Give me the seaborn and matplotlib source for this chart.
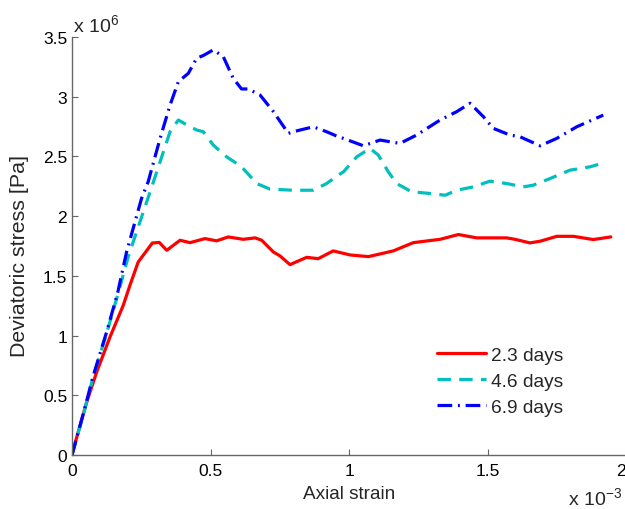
import numpy as np
import pandas as pd
import matplotlib
matplotlib.use("Agg")
import matplotlib.pyplot as plt
from matplotlib.ticker import FuncFormatter
import seaborn as sns

# Axial strain in units of 1e-3, deviatoric stress in units of 1e6 Pa
strain_23 = [0, 0.017, 0.053, 0.089, 0.137, 0.185, 0.209, 0.239, 0.275, 0.29, 0.315,
             0.342, 0.39, 0.426, 0.48, 0.522, 0.564, 0.618, 0.661, 0.685, 0.727, 0.751,
             0.787, 0.847, 0.889, 0.943, 1.004, 1.07, 1.16, 1.232, 1.329, 1.395, 1.461,
             1.569, 1.599, 1.653, 1.69, 1.75, 1.81, 1.882, 1.945]
stress_23 = [0, 0.148, 0.442, 0.694, 0.987, 1.253, 1.42, 1.616, 1.728, 1.775, 1.78,
             1.714, 1.798, 1.778, 1.812, 1.793, 1.826, 1.806, 1.818, 1.798, 1.70, 1.667,
             1.594, 1.655, 1.644, 1.709, 1.675, 1.661, 1.709, 1.778, 1.806, 1.846, 1.818,
             1.818, 1.806, 1.776, 1.79, 1.831, 1.831, 1.804, 1.826]

strain_46 = [0, 0.04, 0.077, 0.125, 0.165, 0.203, 0.245, 0.282, 0.318, 0.354, 0.384,
             0.41, 0.45, 0.474, 0.51, 0.558, 0.612, 0.667, 0.715, 0.799, 0.871, 0.919,
             0.961, 0.98, 1.028, 1.076, 1.106, 1.142, 1.172, 1.226, 1.292, 1.347, 1.389,
             1.449, 1.509, 1.569, 1.629, 1.665, 1.726, 1.798, 1.87, 1.924]
stress_46 = [0, 0.33, 0.66, 1.02, 1.34, 1.66, 1.95, 2.204, 2.455, 2.707, 2.805,
             2.77, 2.721, 2.707, 2.595, 2.497, 2.414, 2.273, 2.226, 2.217, 2.217, 2.273,
             2.343, 2.371, 2.497, 2.567, 2.511, 2.371, 2.273, 2.204, 2.19, 2.175, 2.217,
             2.245, 2.293, 2.273, 2.245, 2.259, 2.315, 2.385, 2.413, 2.449]

strain_69 = [0, 0.04, 0.077, 0.125, 0.165, 0.197, 0.251, 0.275, 0.318, 0.354, 0.384,
             0.42, 0.45, 0.474, 0.51, 0.546, 0.582, 0.612, 0.636, 0.679, 0.727, 0.781,
             0.799, 0.871, 0.919, 0.961, 0.98, 1.052, 1.112, 1.184, 1.244, 1.329, 1.389,
             1.437, 1.485, 1.521, 1.581, 1.617, 1.69, 1.75, 1.822, 1.918]
stress_69 = [0, 0.34, 0.665, 1.03, 1.36, 1.70, 2.148, 2.288, 2.651, 2.93, 3.126,
             3.196, 3.322, 3.345, 3.392, 3.336, 3.154, 3.065, 3.065, 3.014, 2.875, 2.693,
             2.707, 2.748, 2.707, 2.665, 2.651, 2.589, 2.637, 2.609, 2.679, 2.805, 2.875,
             2.945, 2.833, 2.735, 2.679, 2.665, 2.589, 2.651, 2.748, 2.846]

labels = ["2.3 days", "4.6 days", "6.9 days"]
x_ticks = [0, 0.5, 1, 1.5, 2]
y_ticks = [0, 0.5, 1, 1.5, 2, 2.5, 3, 3.5]

frames = []
for lab, xs, ys in zip(labels, [strain_23, strain_46, strain_69],
                       [stress_23, stress_46, stress_69]):
    frames.append(pd.DataFrame({"strain": np.asarray(xs) * 1e-3,
                                "stress": np.asarray(ys) * 1e6,
                                "curing": lab}))
df = pd.concat(frames, ignore_index=True)

sns.set_style("white")
plt.rcParams["font.family"] = ["Liberation Sans", "DejaVu Sans"]
plt.rcParams["mathtext.fontset"] = "custom"
plt.rcParams["mathtext.rm"] = "Liberation Sans"
plt.rcParams["mathtext.it"] = "Liberation Sans"

fig = plt.figure(figsize=(6.25, 5.1), dpi=100)
ax = fig.add_axes([72 / 625, 1 - 456 / 510, 554 / 625, 418 / 510])

palette = {"2.3 days": "#ff0000", "4.6 days": "#00bfbf", "6.9 days": "#0000ff"}
dashes = {"2.3 days": "", "4.6 days": (4.2, 2.6), "6.9 days": (4.6, 1.8, 0.6, 1.8)}
sns.lineplot(data=df, x="strain", y="stress", hue="curing", style="curing",
             palette=palette, dashes=dashes, linewidth=2.3, sort=False,
             estimator=None, ax=ax)

ax.set_xlim(0, 2e-3)
ax.set_ylim(0, 3.5e6)
ax.set_xticks(np.array(x_ticks) * 1e-3)
ax.set_yticks(np.array(y_ticks) * 1e6)
ax.xaxis.set_major_formatter(FuncFormatter(lambda v, p: f"{v * 1e3:g}"))
ax.yaxis.set_major_formatter(FuncFormatter(lambda v, p: f"{v / 1e6:g}"))

spine_color = "#666666"
for side in ["top", "right"]:
    ax.spines[side].set_visible(False)
for side in ["left", "bottom"]:
    ax.spines[side].set_color(spine_color)
    ax.spines[side].set_linewidth(1.0)
ax.tick_params(bottom=True, left=True, direction="in", length=4.5, width=0.8,
               color=spine_color, labelsize=12.5, labelcolor="black")
ax.tick_params(axis="x", pad=6)
ax.tick_params(axis="y", pad=3.5)

# the last strain label sits on the figure's right edge; keep it inside
ax.xaxis.get_major_ticks()[-1].label1.set_horizontalalignment("right")

ax.set_xlabel("Axial strain", fontsize=13.7, va="top")
ax.xaxis.set_label_coords(0.5, (456 - 486) / 418)
ax.set_ylabel("Deviatoric stress [Pa]", fontsize=15.4)
ax.yaxis.set_label_coords((29 - 72) / 554, (456 - 256) / 418)

fig.text(73 / 625, 1 - 32 / 510, r"x 10$^{6}$", fontsize=14, ha="left", va="baseline")
fig.text(622 / 625, 1 - 505 / 510, r"x 10$^{-3}$", fontsize=14, ha="right", va="baseline")

leg = ax.legend(loc="center left", bbox_to_anchor=(437 / 625, 1 - 382 / 510),
                bbox_transform=fig.transFigure, frameon=False, fontsize=13.8,
                handlelength=2.56, handletextpad=0.27, labelspacing=0.45,
                borderpad=0, borderaxespad=0, title=None)

fig.savefig("out.png", dpi=100)
